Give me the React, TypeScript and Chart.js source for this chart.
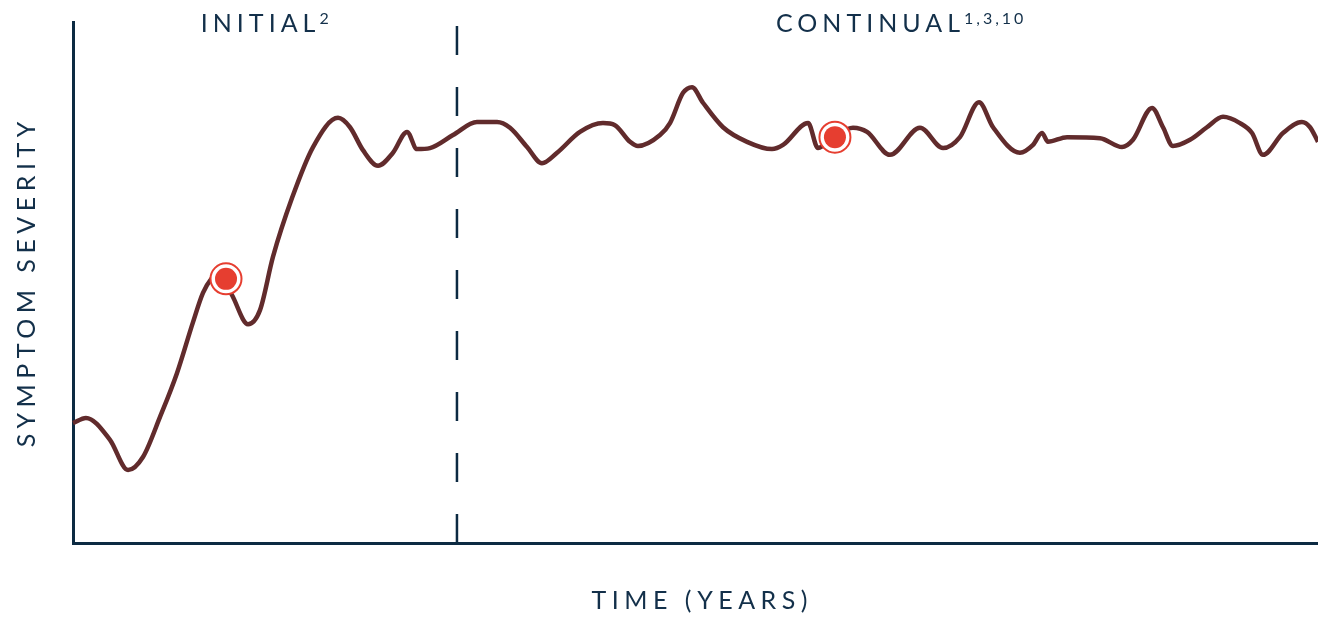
import React, { useEffect, useRef } from "react";
import { Chart, registerables } from "chart.js";

Chart.register(...registerables);

// ---- Data (time on a 0–100 scale, severity on a 0–100 scale) ----
const timeValues = [
  0.0, 1.04, 2.97, 4.42, 5.62, 6.99, 8.35, 9.64, 10.44, 11.16, 11.73, 12.77, 14.06, 15.02,
  16.06, 17.59, 19.28, 21.29, 22.25, 23.29, 24.5, 25.7, 26.83, 27.63, 28.67, 30.52, 32.45,
  34.06, 35.1, 36.47, 37.67, 38.88, 40.72, 42.57, 43.53, 44.74, 45.38, 47.15, 47.95, 49.0,
  49.72, 50.6, 52.21, 54.14, 56.14, 57.03, 59.04, 59.84, 61.2, 62.65, 63.78, 65.62, 68.03,
  69.88, 71.24, 72.77, 73.9, 76.06, 77.11, 77.83, 78.31, 79.84, 82.49, 84.26, 85.14, 86.67,
  87.55, 88.35, 89.72, 91.08, 92.37, 93.73, 94.7, 95.58, 97.19, 98.71, 99.36, 100.0,
];
const severityValues = [
  23.0, 24.0, 19.8, 14.0, 16.5, 24.2, 32.6, 42.4, 48.0, 50.9, 52.0, 47.6, 42.0, 44.7,
  54.9, 66.2, 76.0, 81.6, 79.8, 75.4, 72.4, 74.9, 78.9, 75.6, 75.8, 78.3, 80.8,
  80.8, 79.7, 76.0, 72.9, 74.9, 78.9, 80.6, 80.2, 77.0, 76.2, 78.3, 80.6, 86.4,
  87.5, 84.5, 79.8, 77.0, 75.6, 76.4, 80.6, 75.8, 78.1, 79.7, 78.9, 74.5, 79.7,
  75.8, 77.9, 84.6, 79.8, 74.9, 76.4, 78.7, 77.0, 77.9, 77.7, 76.0, 77.4, 83.5,
  79.8, 76.2, 77.4, 79.8, 81.8, 80.6, 78.7, 74.5, 78.7, 80.8, 79.8, 77.0,
];
const markerTimes = [12.29, 61.2];
const markerSeverity = [50.7, 77.9];
const phaseBoundary = 30.84;
const phaseLabels = ["INITIAL", "CONTINUAL"];
const phaseRefs = ["2", "1,3,10"];
const phaseLabelCenters = [15.4, 66.4];
const xAxisTitle = "TIME (YEARS)";
const yAxisTitle = "SYMPTOM SEVERITY";

// ---- Styles ----
const LINE_COLOR = "#612b2c";
const AXIS_COLOR = "#0c2a42";
const TEXT_COLOR = "#13304a";
const MARKER_RED = "#e63e30";
const FONT = "Lato, 'Noto Sans', sans-serif";

function drawSpaced(ctx: CanvasRenderingContext2D, text: string, x: number, y: number, spacing: number) {
  (ctx as any).letterSpacing = spacing + "px";
  ctx.fillText(text, x, y);
  (ctx as any).letterSpacing = "0px";
}

function measureSpaced(ctx: CanvasRenderingContext2D, text: string, spacing: number) {
  (ctx as any).letterSpacing = spacing + "px";
  const w = ctx.measureText(text).width - spacing;
  (ctx as any).letterSpacing = "0px";
  return w;
}

const annotationPlugin = {
  id: "annotations",
  beforeDatasetsDraw(chart: any) {
    const { ctx, chartArea, scales } = chart;
    const px = scales.x.getPixelForValue(phaseBoundary);
    ctx.save();
    ctx.strokeStyle = AXIS_COLOR;
    ctx.lineWidth = 2.5;
    ctx.setLineDash([29, 32]);
    ctx.beginPath();
    ctx.moveTo(px, chartArea.bottom);
    ctx.lineTo(px, chartArea.top);
    ctx.stroke();
    ctx.restore();
  },
  afterDraw(chart: any) {
    const { ctx, chartArea, scales } = chart;
    ctx.save();
    ctx.fillStyle = TEXT_COLOR;
    ctx.textBaseline = "alphabetic";
    ctx.textAlign = "left";

    const mainFont = `400 25px ${FONT}`;
    const supFont = `400 16px ${FONT}`;
    const spacing = 5;
    const supSpacing = 3;
    for (let i = 0; i < phaseLabels.length; i++) {
      ctx.font = mainFont;
      const wMain = measureSpaced(ctx, phaseLabels[i], spacing);
      ctx.font = supFont;
      const wSup = measureSpaced(ctx, phaseRefs[i], supSpacing);
      const gap = 4;
      const cx = scales.x.getPixelForValue(phaseLabelCenters[i]);
      const left = cx - (wMain + gap + wSup) / 2;
      const baseline = chartArea.top + 10;
      ctx.font = mainFont;
      drawSpaced(ctx, phaseLabels[i], left, baseline, spacing);
      ctx.font = supFont;
      drawSpaced(ctx, phaseRefs[i], left + wMain + gap, baseline - 8, supSpacing);
    }

    // x-axis title
    ctx.font = mainFont;
    const xs = 5.5;
    const wx = measureSpaced(ctx, xAxisTitle, xs);
    const cxa = (chartArea.left + chartArea.right) / 2 + 4;
    drawSpaced(ctx, xAxisTitle, cxa - wx / 2, chartArea.bottom + 66, xs);

    // y-axis title
    ctx.font = mainFont;
    const ys = 5.5;
    const wy = measureSpaced(ctx, yAxisTitle, ys);
    const cya = (chartArea.top + chartArea.bottom) / 2 + 2;
    ctx.translate(chartArea.left - 38, cya);
    ctx.rotate(-Math.PI / 2);
    drawSpaced(ctx, yAxisTitle, -wy / 2, 0, ys);
    ctx.restore();
  },
};

export default function App() {
  const canvasRef = useRef<HTMLCanvasElement | null>(null);

  useEffect(() => {
    if (!canvasRef.current) return;
    const lineData = timeValues.map((t, i) => ({ x: t, y: severityValues[i] }));
    const markerData = markerTimes.map((t, i) => ({ x: t, y: markerSeverity[i] }));

    const chart = new Chart(canvasRef.current, {
      type: "line",
      data: {
        datasets: [
          {
            label: "Symptom severity",
            data: lineData,
            borderColor: LINE_COLOR,
            borderWidth: 4.5,
            pointRadius: 0,
            cubicInterpolationMode: "monotone",
            fill: false,
            order: 3,
            clip: 6,
          } as any,
          {
            label: "marker ring",
            data: markerData,
            showLine: false,
            pointRadius: 15.5,
            pointBackgroundColor: "#ffffff",
            pointBorderColor: MARKER_RED,
            pointBorderWidth: 2,
            order: 2,
            clip: false,
          } as any,
          {
            label: "marker",
            data: markerData,
            showLine: false,
            pointRadius: 11,
            pointBackgroundColor: MARKER_RED,
            pointBorderWidth: 0,
            order: 1,
            clip: false,
          } as any,
        ],
      },
      options: {
        animation: false,
        responsive: false,
        events: [],
        layout: { autoPadding: false, padding: { left: 73, right: 0, top: 22, bottom: 74 } },
        plugins: {
          legend: { display: false },
          tooltip: { enabled: false },
        },
        scales: {
          x: {
            type: "linear",
            min: 0,
            max: 100,
            ticks: { display: false },
            grid: { display: false, drawTicks: false },
            border: { display: true, color: AXIS_COLOR, width: 3 },
          },
          y: {
            type: "linear",
            min: 0,
            max: 100,
            ticks: { display: false },
            grid: { display: false, drawTicks: false },
            border: { display: true, color: AXIS_COLOR, width: 3 },
          },
        },
      } as any,
      plugins: [annotationPlugin],
    });
    return () => chart.destroy();
  }, []);

  return (
    <div style={{ position: "fixed", left: 0, top: 0, width: 1318, height: 617, background: "#ffffff" }}>
      <canvas ref={canvasRef} width={1318} height={617} style={{ display: "block" }} />
    </div>
  );
}
